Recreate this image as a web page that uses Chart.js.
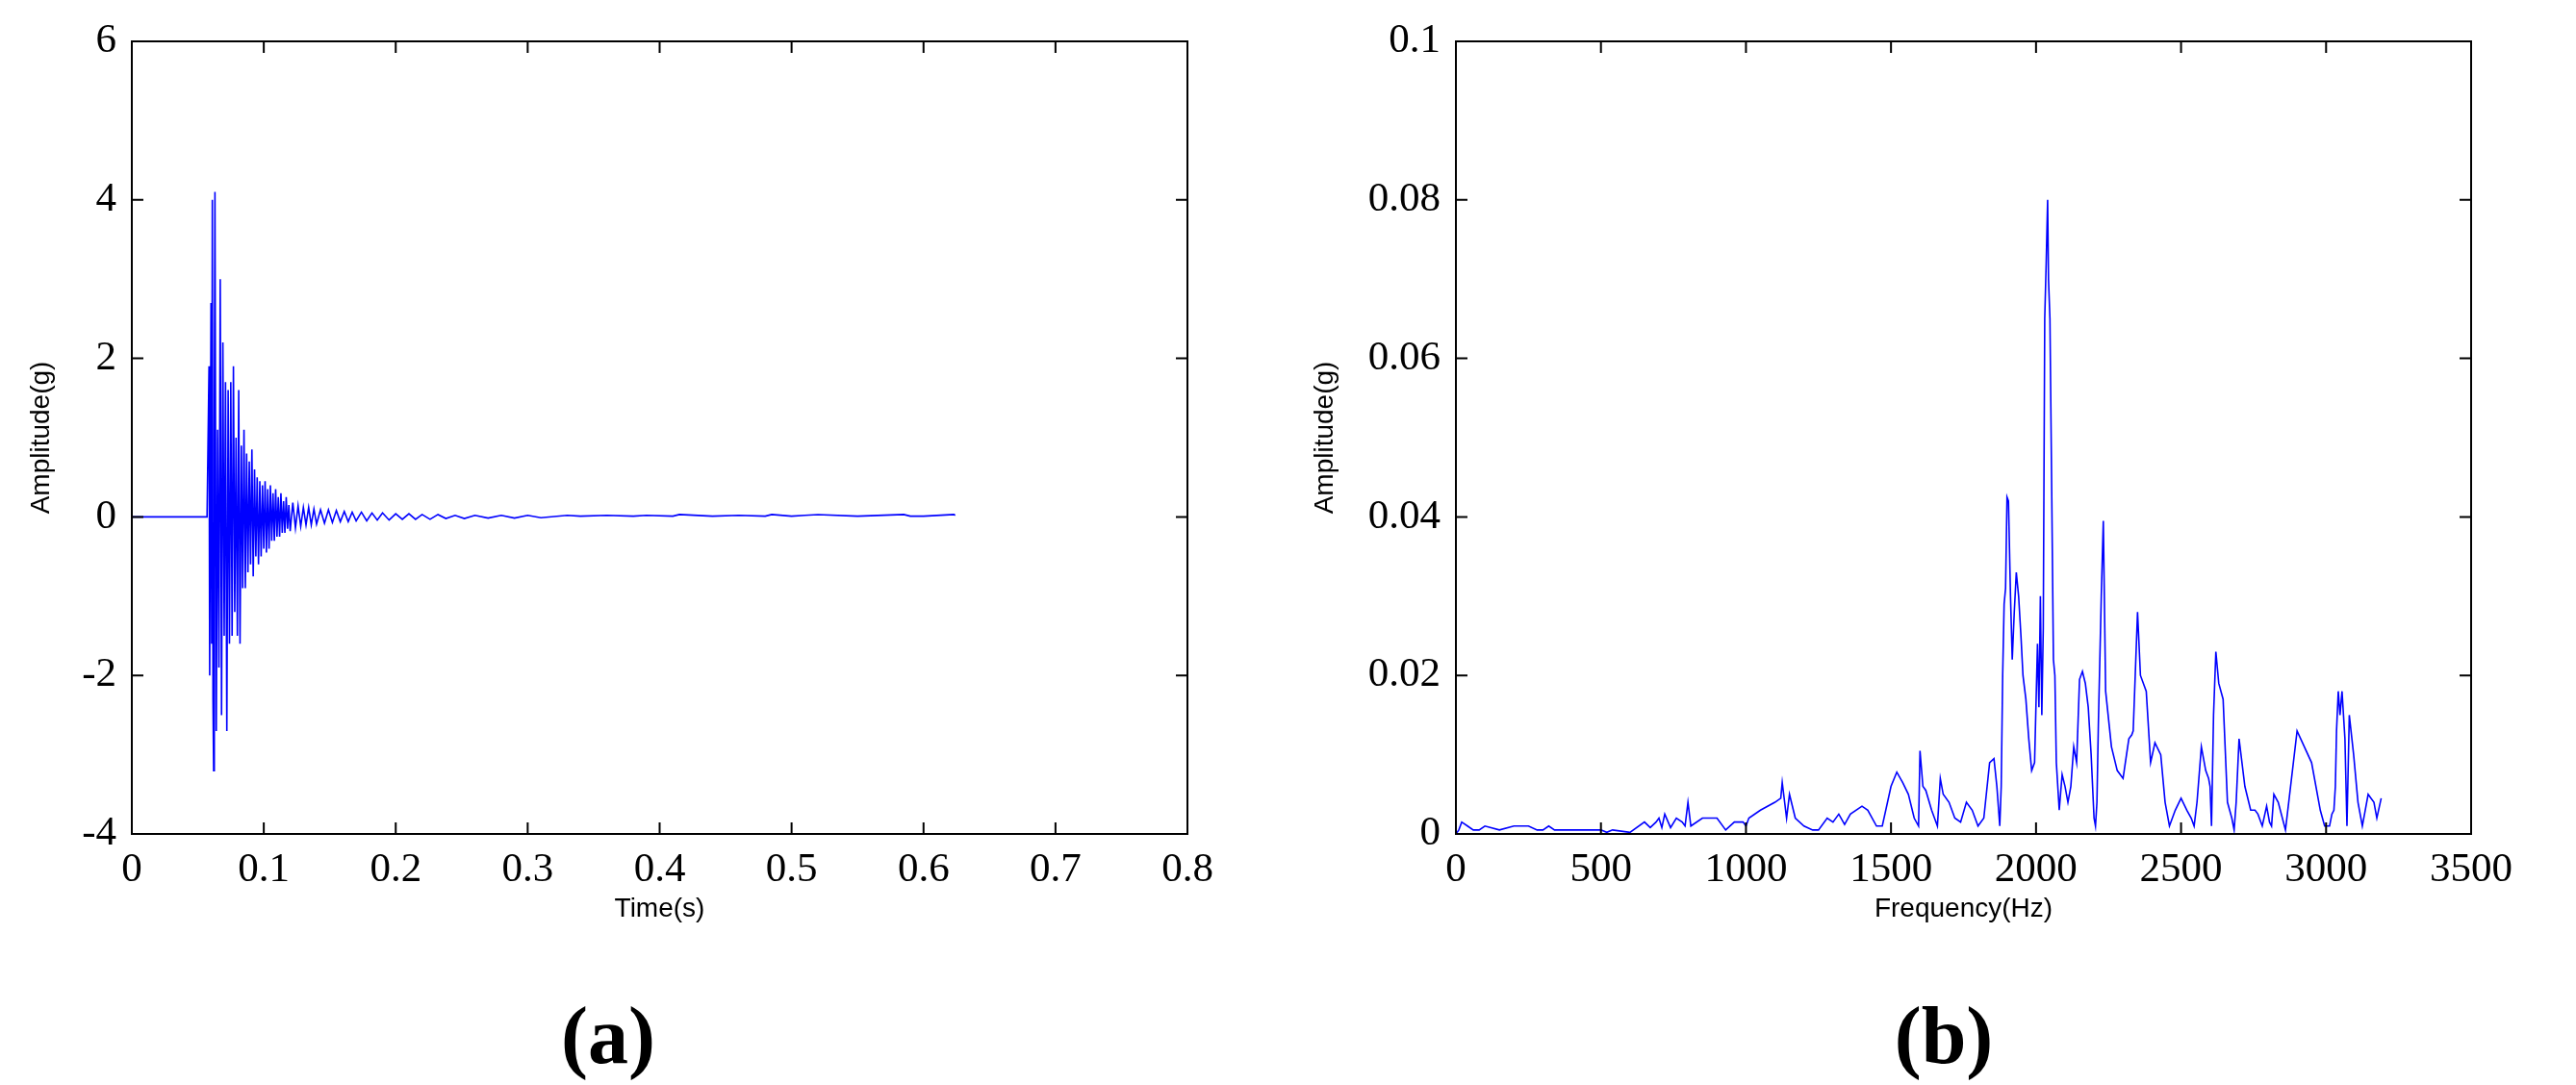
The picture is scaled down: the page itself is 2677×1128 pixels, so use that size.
<!DOCTYPE html>
<html><head><meta charset="utf-8">
<script src="https://cdn.jsdelivr.net/npm/chart.js@4"></script>
<style>
body{margin:0;background:#fff;width:2677px;height:1128px;position:relative;overflow:hidden}
.box{position:absolute}
.lab{position:absolute;font-family:"Liberation Serif",serif;font-weight:bold;font-size:84px;top:1076px;transform:translate(-50%,-50%)}
</style></head><body>
<div class="box" style="left:0;top:0;width:1330px;height:1000px"><canvas id="c1"></canvas></div>
<div class="box" style="left:1350px;top:0;width:1327px;height:1000px"><canvas id="c2"></canvas></div>
<div class="lab" style="left:632px">(a)</div>
<div class="lab" style="left:2020px">(b)</div>
<script>
const timeS=[0,0.057,0.0585,0.059,0.060,0.0605,0.061,0.0615,0.062,0.0625,0.063,0.064,0.065,0.066,0.067,0.068,0.069,0.070,0.071,0.072,0.073,0.074,0.075,0.076,0.077,0.078,0.079,0.080,0.081,0.082,0.083,0.084,0.085,0.086,0.087,0.088,0.089,0.090,0.091,0.092,0.093,0.094,0.095,0.096,0.097,0.098,0.099,0.100,0.101,0.102,0.103,0.104,0.105,0.106,0.107,0.108,0.109,0.110,0.111,0.112,0.113,0.114,0.115,0.116,0.117,0.118,0.119,0.120,0.122,0.124,0.126,0.128,0.130,0.132,0.134,0.136,0.138,0.140,0.143,0.146,0.149,0.152,0.155,0.158,0.161,0.164,0.167,0.170,0.174,0.178,0.182,0.186,0.190,0.195,0.200,0.205,0.210,0.215,0.220,0.226,0.232,0.238,0.245,0.252,0.26,0.27,0.28,0.29,0.30,0.31,0.33,0.34,0.36,0.38,0.39,0.41,0.415,0.44,0.46,0.48,0.485,0.50,0.51,0.52,0.55,0.585,0.59,0.60,0.623,0.624];
const ampA=[0,0,1.9,-2.0,2.7,-1.6,4.0,-2.3,-3.2,1.0,4.1,-2.7,1.1,-1.9,3.0,-2.5,2.2,-1.5,1.7,-2.7,1.6,-1.6,1.7,-1.5,1.9,-1.2,1.0,-1.5,1.6,-1.6,0.9,-0.9,1.1,-0.9,0.8,-0.7,0.7,-0.6,0.85,-0.75,0.6,-0.5,0.5,-0.6,0.45,-0.5,0.4,-0.4,0.45,-0.45,0.35,-0.4,0.4,-0.3,0.3,-0.3,0.35,-0.25,0.25,-0.25,0.3,-0.2,0.2,-0.2,0.25,-0.15,0.15,-0.18,0.18,-0.14,0.14,-0.12,0.12,-0.1,0.12,-0.1,0.1,-0.09,0.09,-0.08,0.09,-0.07,0.08,-0.06,0.07,-0.06,0.06,-0.05,0.06,-0.05,0.05,-0.04,0.05,-0.04,0.04,-0.03,0.04,-0.03,0.03,-0.03,0.03,-0.02,0.02,-0.02,0.02,-0.015,0.02,-0.015,0.02,-0.01,0.02,0.01,0.02,0.01,0.02,0.01,0.03,0.01,0.02,0.01,0.03,0.01,0.02,0.03,0.01,0.03,0.01,0.01,0.03,0.02];
const freqHz=[0,10,20,40,60,80,100,150,200,250,280,300,320,340,400,450,500,520,540,600,650,670,690,700,710,720,740,760,780,790,800,810,850,900,930,960,990,1000,1010,1050,1100,1120,1125,1140,1150,1170,1200,1230,1250,1280,1300,1320,1340,1360,1400,1420,1450,1470,1500,1520,1540,1560,1580,1595,1600,1610,1620,1640,1650,1660,1670,1680,1700,1720,1740,1760,1780,1800,1820,1840,1855,1865,1875,1880,1885,1890,1895,1900,1905,1912,1918,1925,1932,1940,1948,1955,1965,1975,1985,1995,2005,2010,2015,2020,2025,2030,2035,2040,2043,2048,2055,2060,2065,2070,2080,2090,2100,2110,2120,2130,2140,2150,2160,2170,2180,2190,2200,2205,2210,2215,2225,2232,2240,2260,2280,2300,2310,2320,2330,2335,2342,2350,2360,2380,2395,2410,2430,2445,2460,2480,2500,2520,2535,2545,2555,2570,2585,2595,2600,2605,2612,2620,2630,2645,2660,2675,2683,2690,2700,2720,2740,2755,2765,2780,2795,2805,2812,2820,2835,2860,2900,2950,2980,2995,3005,3012,3020,3027,3032,3036,3042,3048,3055,3065,3072,3080,3095,3110,3125,3135,3145,3155,3165,3175,3190];
const ampB=[0,0.0005,0.0015,0.001,0.0005,0.0005,0.001,0.0005,0.001,0.001,0.0005,0.0005,0.001,0.0005,0.0005,0.0005,0.0005,0.0002,0.0005,0.0002,0.0015,0.0008,0.0015,0.002,0.0008,0.0025,0.0008,0.002,0.0015,0.001,0.004,0.001,0.002,0.002,0.0005,0.0015,0.0015,0.001,0.002,0.003,0.004,0.0045,0.0065,0.002,0.005,0.002,0.001,0.0005,0.0005,0.002,0.0015,0.0025,0.0012,0.0025,0.0035,0.003,0.001,0.001,0.006,0.0078,0.0065,0.005,0.002,0.001,0.0105,0.006,0.0055,0.003,0.002,0.001,0.007,0.005,0.004,0.002,0.0015,0.004,0.003,0.001,0.002,0.009,0.0095,0.006,0.001,0.006,0.02,0.029,0.031,0.0425,0.042,0.03,0.022,0.028,0.033,0.03,0.025,0.02,0.017,0.012,0.008,0.009,0.024,0.016,0.03,0.015,0.026,0.065,0.072,0.08,0.07,0.065,0.04,0.022,0.02,0.009,0.003,0.0075,0.006,0.004,0.006,0.011,0.009,0.0195,0.0205,0.019,0.016,0.01,0.002,0.001,0.004,0.014,0.03,0.0395,0.018,0.011,0.008,0.007,0.0095,0.012,0.0125,0.013,0.02,0.028,0.02,0.018,0.009,0.0115,0.01,0.004,0.001,0.003,0.0045,0.003,0.002,0.001,0.004,0.011,0.008,0.007,0.006,0.001,0.015,0.023,0.019,0.017,0.004,0.002,0.0005,0.004,0.012,0.006,0.003,0.003,0.0025,0.001,0.0035,0.0015,0.001,0.005,0.004,0.0005,0.013,0.009,0.003,0.001,0.001,0.001,0.0025,0.003,0.006,0.013,0.018,0.015,0.018,0.012,0.001,0.015,0.01,0.004,0.001,0.003,0.005,0.0045,0.004,0.002,0.0045,0.0065,0.006,0.0045,0.004];

const serif='"Liberation Serif", serif', sans='"Liberation Sans", Arial, sans-serif';
const frame={id:'frame',afterDraw(c){const a=c.chartArea,x=c.ctx;x.save();x.strokeStyle='#000';x.lineWidth=2;x.strokeRect(a.left,a.top,a.right-a.left,a.bottom-a.top);
 const L=12;c.scales.x.ticks.forEach(t=>{const p=c.scales.x.getPixelForValue(t.value);x.beginPath();x.moveTo(p,a.bottom);x.lineTo(p,a.bottom-L);x.moveTo(p,a.top);x.lineTo(p,a.top+L);x.stroke();});
 c.scales.y.ticks.forEach(t=>{const p=c.scales.y.getPixelForValue(t.value);x.beginPath();x.moveTo(a.left,p);x.lineTo(a.left+L,p);x.moveTo(a.right,p);x.lineTo(a.right-L,p);x.stroke();});x.restore();}};
function make(id,xs,ys,xr,yr,xt,leftW,rightPad,yTitlePad,fmt){
 return new Chart(document.getElementById(id),{type:'line',
 data:{datasets:[{data:xs.map((v,i)=>({x:v,y:ys[i]})),borderColor:'#0000ff',borderWidth:1.6,pointRadius:0,tension:0}]},
 options:{responsive:true,maintainAspectRatio:false,animation:false,
  layout:{padding:{top:43,right:rightPad,left:0,bottom:0}},
  plugins:{legend:{display:false},tooltip:{enabled:false}},
  scales:{x:{type:'linear',min:xr[0],max:xr[1],afterFit(s){s.height=133;},
     ticks:{stepSize:xr[2],color:'#000',font:{family:serif,size:43},padding:4,callback:v=>fmt(v)},
     grid:{display:false},border:{display:false},
     title:{display:true,text:xt,color:'#000',font:{family:sans,size:28},padding:{top:0,bottom:38}}},
   y:{min:yr[0],max:yr[1],afterFit(s){s.width=leftW;},
     ticks:{stepSize:yr[2],color:'#000',font:{family:serif,size:43},padding:8,callback:v=>fmt(v)},
     grid:{display:false},border:{display:false},
     title:{display:true,text:'Amplitude(g)',color:'#000',font:{family:sans,size:28},padding:{top:yTitlePad,bottom:0}}}}},
 plugins:[frame]});}
const f=v=>String(Math.round(v*1000)/1000);
make('c1',timeS,ampA,[0,0.8,0.1],[-4,6,2],'Time(s)',137,96,26,f);
make('c2',freqHz,ampB,[0,3500,500],[0,0.1,0.02],'Frequency(Hz)',163,109,10,f);
</script></body></html>
